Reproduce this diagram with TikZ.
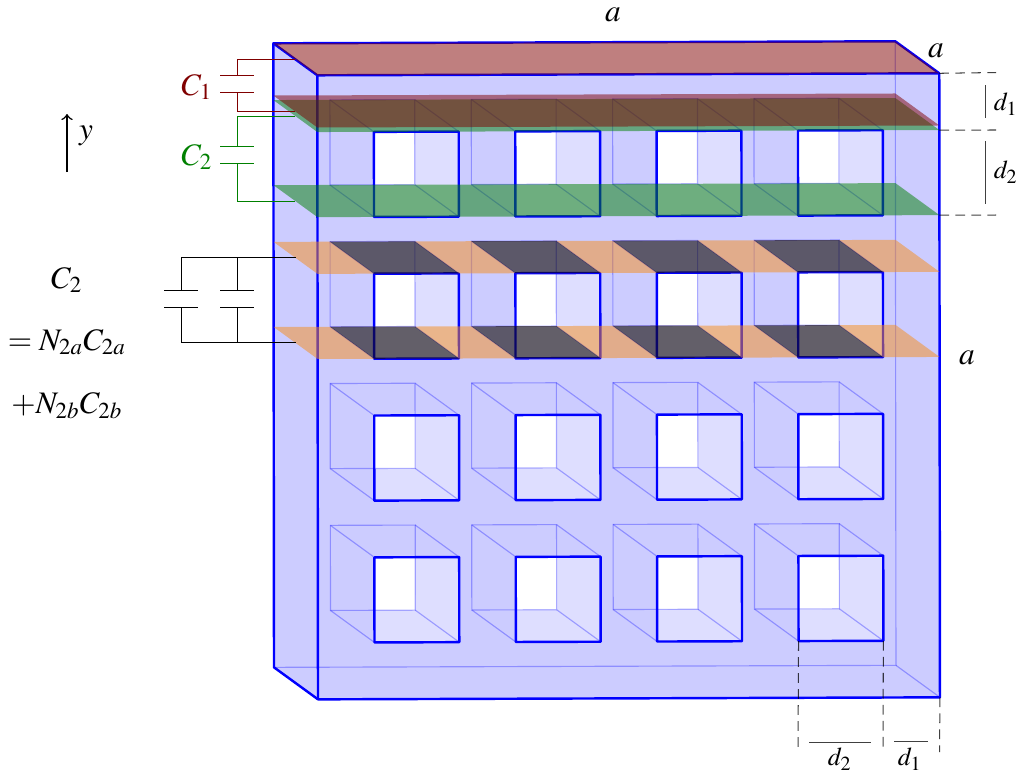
\documentclass[tikz,border=0pt,11pt]{standalone}
\usepackage{mathptmx}
\tikzset{
	bodyedge/.style={blue,line width=0.85pt,line join=round},
	backedge/.style={blue,opacity=0.3,line width=0.4pt},
	dimline/.style={black,line width=0.32pt,opacity=0.75},
	dimdash/.style={black,line width=0.36pt,dash pattern=on 3.4pt off 2.2pt,opacity=0.75},
	wirered/.style={red!50!black,line width=0.33pt},
	wiregreen/.style={green!50!black,line width=0.33pt},
	wireblack/.style={black,line width=0.33pt},
	platered/.style={fill=red!50!black,fill opacity=0.5},
	plategreen/.style={fill=green!50!black,fill opacity=0.5},
	plateorange/.style={fill={rgb,255:red,247;green,141;blue,25},fill opacity=0.5,even odd rule},
	platedark/.style={fill={rgb,255:red,18;green,11;blue,5},fill opacity=0.6},
	dimlabel/.style={inner sep=0pt,font=\footnotesize}
}
\colorlet{bodyblue}{blue!20}
\colorlet{wallblue}{blue!13}
\begin{document}
\begin{tikzpicture}[x=0.35pt,y=-0.35pt]
	\useasboundingbox (0,-1) rectangle (1020,770);
	% the box, in units of d1, z is the depth
	\begin{scope}[shift={(317.3,74.3)},x={(19.79pt,0.064pt)},y={(0.022pt,-19.856pt)},z={(-15.4pt,11.2pt)}]
		\fill [bodyblue] (0,0,1) -- (0,0,0) -- (11,0,0) -- (11,11,0) -- (0,11,0) -- (0,11,1) -- cycle;
		% holes
		\foreach \x in {1,3.5,6,8.5} {
			\foreach \y in {1,3.5,6,8.5} {
				\pgfmathsetmacro{\xa}{\x+1.5}
				\pgfmathsetmacro{\ya}{\y+1.5}
				\pgfmathsetmacro{\xb}{\x+0.722}
				\pgfmathsetmacro{\yb}{\y+0.936}
				\fill [wallblue] (\x,\y,0) -- (\xa,\y,0) -- (\xa,\ya,0) -- (\x,\ya,0) -- cycle;
				\fill [white] (\x,\y,0) -- (\xb,\y,0) -- (\xb,\yb,0) -- (\x,\yb,0) -- cycle;
				\draw [backedge] (\x,\y,1) -- (\xa,\y,1) -- (\xa,\ya,1) -- (\x,\ya,1) -- cycle;
				\draw [backedge] (\x,\y,1) -- (\x,\y,0);
				\draw [backedge] (\xa,\y,1) -- (\xa,\y,0);
				\draw [backedge] (\xa,\ya,1) -- (\xa,\ya,0);
				\draw [backedge] (\x,\ya,1) -- (\x,\ya,0);
				\draw [bodyedge] (\x,\y,0) -- (\xa,\y,0) -- (\xa,\ya,0) -- (\x,\ya,0) -- cycle;
			}
		}
		\draw [backedge] (0,11,1) -- (11,11,1) -- (11,0,1);
		\draw [backedge] (11,11,1) -- (11,11,0);
		\draw [bodyedge] (0,0,0) -- (11,0,0) -- (11,11,0) -- (0,11,0) -- cycle;
		\draw [bodyedge] (0,0,0) -- (0,0,1) -- (11,0,1) -- (11,0,0);
		\draw [bodyedge] (0,0,1) -- (0,11,1) -- (0,11,0);
		% plates
		\fill [plategreen] (0,1,1) -- (11,1,1) -- (11,1,0) -- (0,1,0) -- cycle;
		\fill [platered] (0,0.92,1) -- (11,0.92,1) -- (11,0.92,0) -- (0,0.92,0) -- cycle;
		\fill [platered] (0,0,1) -- (11,0,1) -- (11,0,0) -- (0,0,0) -- cycle;
		\fill [plategreen] (0,2.5,1) -- (11,2.5,1) -- (11,2.5,0) -- (0,2.5,0) -- cycle;
		\foreach \y in {3.5,5} {
			\fill [plateorange] (0,\y,1) -- (11,\y,1) -- (11,\y,0) -- (0,\y,0) -- cycle
				(1,\y,1) -- (2.5,\y,1) -- (2.5,\y,0) -- (1,\y,0) -- cycle
				(3.5,\y,1) -- (5,\y,1) -- (5,\y,0) -- (3.5,\y,0) -- cycle
				(6,\y,1) -- (7.5,\y,1) -- (7.5,\y,0) -- (6,\y,0) -- cycle
				(8.5,\y,1) -- (10,\y,1) -- (10,\y,0) -- (8.5,\y,0) -- cycle;
			\foreach \x in {1,3.5,6,8.5} {
				\pgfmathsetmacro{\xa}{\x+1.5}
				\fill [platedark] (\x,\y,1) -- (\xa,\y,1) -- (\xa,\y,0) -- (\x,\y,0) -- cycle;
			}
		}
		\coordinate (redtop) at (0,0,0.5);
		\coordinate (redbot) at (0,0.92,0.5);
		\coordinate (greentop) at (0,1,0.5);
		\coordinate (greenbot) at (0,2.5,0.5);
		\coordinate (orangetop) at (0,3.5,0.5);
		\coordinate (orangebot) at (0,5,0.5);
		\coordinate (frontTR) at (11,0,0);
		\coordinate (frontBR) at (11,11,0);
		\coordinate (midA) at (11,1,0);
		\coordinate (midB) at (11,2.5,0);
		\coordinate (holeL) at (8.5,10,0);
		\coordinate (holeR) at (10,10,0);
	\end{scope}
	% capacitors
	\draw [wirered] (redtop) -| (237,74);
	\draw [wirered] (220,74) -- (254,74);
	\draw [wirered] (220,91) -- (254,91);
	\draw [wirered] (237,91) |- (redbot);
	\draw [wiregreen] (greentop) -| (237,145);
	\draw [wiregreen] (220,145) -- (254,145);
	\draw [wiregreen] (220,162) -- (254,162);
	\draw [wiregreen] (237,162) |- (greenbot);
	\draw [wireblack] (orangetop) -| (181,289.5);
	\draw [wireblack] (237,256) -- (237,289.5);
	\draw [wireblack] (164,289.5) -- (198,289.5);
	\draw [wireblack] (220,289.5) -- (254,289.5);
	\draw [wireblack] (164,306.5) -- (198,306.5);
	\draw [wireblack] (220,306.5) -- (254,306.5);
	\draw [wireblack] (181,306.5) |- (orangebot);
	\draw [wireblack] (237,306.5) -- (237,340.5);
	% labels
	\node [red!50!black] (labelone) at (197,86) {$C_1$};
	\node [green!50!black] (labeltwo) at (197,156) {$C_2$};
	\node [inner sep=0pt] (labeltop) at (613,14) {$a$};
	\node (labelcorner) at (936,49.5) {$a$};
	\node (labelside) at (967,356.5) {$a$};
	\node (labelC) at (67,279) {$C_2$};
	\node (labelNa) at (67,341) {$=N_{2a}C_{2a}$};
	\node (labelNb) at (67,405) {$+N_{2b}C_{2b}$};
	\coordinate (ytail) at (67,171);
	\coordinate (yhead) at (67,113);
	\draw [->,line width=0.55pt] (ytail) -- (yhead);
	\node (labely) at (86,135) {$y$};
	% dimensions
	\draw [dimdash] (frontTR) -- (996,71.5);
	\draw [dimdash] (midA) -- (996,129);
	\draw [dimdash] (midB) -- (996,214);
	\draw [dimline] (985,84) -- (985,117);
	\draw [dimline] (985,140) -- (985,203);
	\node [dimlabel] (labeldone) at (1006,103) {$d_1$};
	\node [dimlabel] (labeldtwo) at (1006,171) {$d_2$};
	\draw [dimdash] (holeL) -- (798,751);
	\draw [dimdash] (holeR) -- (883,751);
	\draw [dimdash] (frontBR) -- (939.5,751);
	\draw [dimline] (809,741) -- (871,741);
	\draw [dimline] (894,740) -- (928,740);
	\node [dimlabel] (labelbotd) at (840,758) {$d_2$};
	\node [dimlabel] (labelbote) at (910,758) {$d_1$};
\end{tikzpicture}
\end{document}
